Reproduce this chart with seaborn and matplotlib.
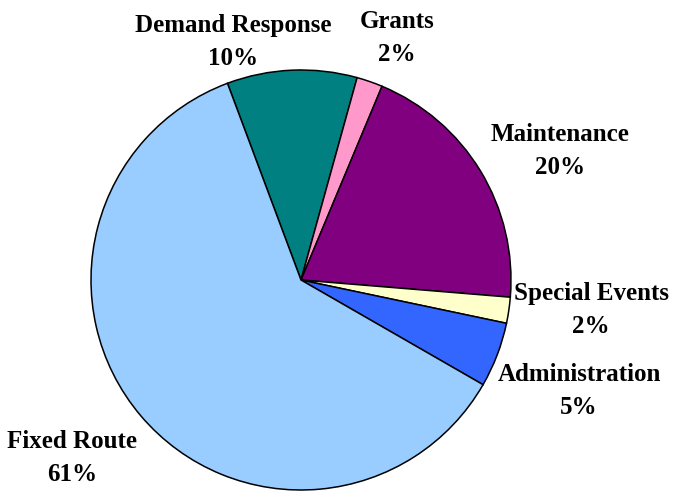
import matplotlib
matplotlib.use("Agg")
import matplotlib.pyplot as plt
import seaborn as sns

# Operating budget shares by program
categories = ["Demand Response", "Grants", "Maintenance", "Special Events",
              "Administration", "Fixed Route"]
shares = [10, 2, 20, 2, 5, 61]
colors = ["#008080", "#FF99CC", "#800080", "#FFFFCC", "#3366FF", "#99CCFF"]

# Label placement (data units, pie radius = 1)
label_xy = [(-0.324, 1.133), (0.457, 1.152), (1.233, 0.614),
            (1.381, -0.143), (1.324, -0.529), (-1.090, -0.848)]

sns.set_theme(style="white")
plt.rcParams["font.family"] = ["Liberation Serif", "DejaVu Serif"]

fig = plt.figure(figsize=(6.79, 4.92), dpi=100)
ax = fig.add_axes([0, 0, 1, 1])

wedges, _ = ax.pie(shares, colors=colors, startangle=110.5, counterclock=False,
                   radius=1.0, center=(0, 0),
                   wedgeprops=dict(edgecolor="black", linewidth=1.1))

for name, val, (x, y) in zip(categories, shares, label_xy):
    ax.text(x, y, f"{name}\n{val}%", ha="center", va="center",
            fontsize=18, fontweight="bold", color="black", linespacing=1.55)

ax.set_xlim(-301 / 210, (679 - 301) / 210)
ax.set_ylim(-(492 - 280) / 210, 280 / 210)
ax.set_aspect("equal")
ax.axis("off")

fig.savefig("out.png", dpi=100, facecolor="white")
